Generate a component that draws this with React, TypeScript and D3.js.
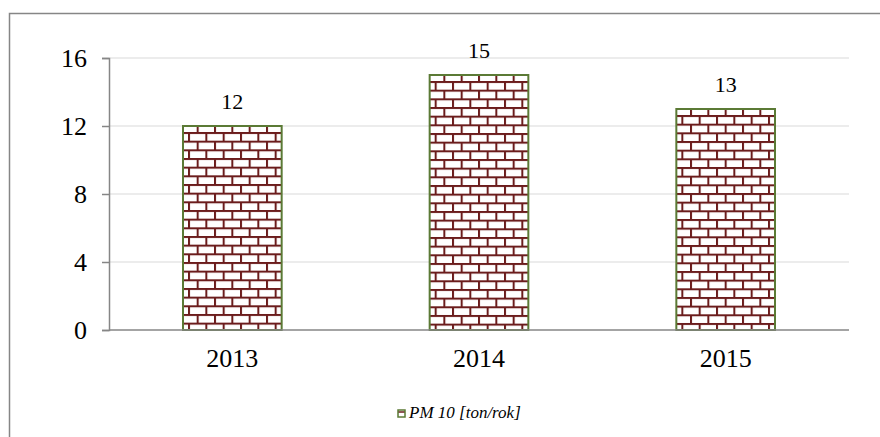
import * as React from 'react';
import * as d3 from 'd3';

const years = ['2013', '2014', '2015'];
const pm10 = [12, 15, 13];
const yTicks = [0, 4, 8, 12, 16];
const seriesName = 'PM 10 [ton/rok]';

const W = 880;
const H = 437;
const margin = { top: 58, right: 31, bottom: 107, left: 109 };
const plotW = W - margin.left - margin.right;
const plotH = H - margin.top - margin.bottom;

const brick = 17.33;
const mortar = '#6b1c1c';
const barEdge = '#5b7a35';
const font = '"Liberation Serif", "Times New Roman", serif';

export default function App() {
  const axisRef = React.useRef<SVGGElement>(null);

  const x = d3.scaleBand<string>().domain(years).range([0, plotW]).padding(0);
  const y = d3.scaleLinear().domain([0, 16]).range([plotH, 0]);
  const barW = x.bandwidth() * 0.4;

  React.useEffect(() => {
    const g = d3.select(axisRef.current);
    g.selectAll('*').remove();
    const ax = g.append('g')
      .call(d3.axisLeft(y).tickValues(yTicks).tickSize(7).tickPadding(15).tickFormat(d3.format('d')));
    ax.select('.domain').attr('stroke', '#868686').attr('stroke-width', 1.5);
    ax.selectAll('.tick line').attr('stroke', '#868686').attr('stroke-width', 1.5);
    ax.selectAll('.tick text')
      .attr('font-family', font).attr('font-size', 26).attr('fill', '#000').attr('dy', '0.34em');
  }, []);

  const barX = (d: string) => (x(d) as number) + (x.bandwidth() - barW) / 2;

  return (
    <svg width={W} height={H} style={{ position: 'absolute', left: 0, top: 0, background: '#fff' }}>
      <defs>
        {years.map((yr, i) => (
          <pattern key={yr} id={`brick-${i}`} patternUnits="userSpaceOnUse"
                   x={margin.left + barX(yr)} y={margin.top + y(pm10[i])}
                   width={brick} height={brick}>
            <rect width={brick} height={brick} fill="#fff" />
            <line x1={0} x2={brick} y1={1} y2={1} stroke={mortar} strokeWidth={2} />
            <line x1={0} x2={brick} y1={brick / 2 + 1} y2={brick / 2 + 1} stroke={mortar} strokeWidth={2} />
            <line x1={1} x2={1} y1={0} y2={brick / 2} stroke={mortar} strokeWidth={2} />
            <line x1={brick / 2 + 1} x2={brick / 2 + 1} y1={brick / 2} y2={brick} stroke={mortar} strokeWidth={2} />
          </pattern>
        ))}
        <pattern id="brick-legend" patternUnits="userSpaceOnUse" x={398} y={410} width={7} height={7}>
          <rect width={7} height={7} fill="#fff" />
          <line x1={0} x2={7} y1={2} y2={2} stroke={mortar} strokeWidth={1.5} />
        </pattern>
      </defs>

      <rect x={9.5} y={13.5} width={W + 20} height={H + 20} fill="none" stroke="#868686" strokeWidth={1.5} />

      <g transform={`translate(${margin.left},${margin.top})`}>
        {yTicks.filter(t => t > 0).map(t => (
          <line key={t} x1={0} x2={plotW} y1={y(t)} y2={y(t)} stroke="#d9d9d9" strokeWidth={1} />
        ))}
        {years.map((yr, i) => (
          <g key={yr}>
            <rect x={barX(yr)} y={y(pm10[i])} width={barW} height={plotH - y(pm10[i])}
                  fill={`url(#brick-${i})`} stroke={barEdge} strokeWidth={2} />
            <text x={(x(yr) as number) + x.bandwidth() / 2} y={y(pm10[i]) - 17}
                  textAnchor="middle" fontFamily={font} fontSize={22}>{pm10[i]}</text>
            <text x={(x(yr) as number) + x.bandwidth() / 2} y={plotH + 37}
                  textAnchor="middle" fontFamily={font} fontSize={26}>{yr}</text>
          </g>
        ))}
        <line x1={0} x2={plotW} y1={plotH} y2={plotH} stroke="#868686" strokeWidth={1.5} />
        <g ref={axisRef} />
      </g>

      <rect x={398} y={410} width={7} height={7} fill="url(#brick-legend)" stroke={barEdge} strokeWidth={1.5} />
      <text x={409} y={418} fontFamily={font} fontStyle="italic" fontSize={17}>{seriesName}</text>
    </svg>
  );
}
